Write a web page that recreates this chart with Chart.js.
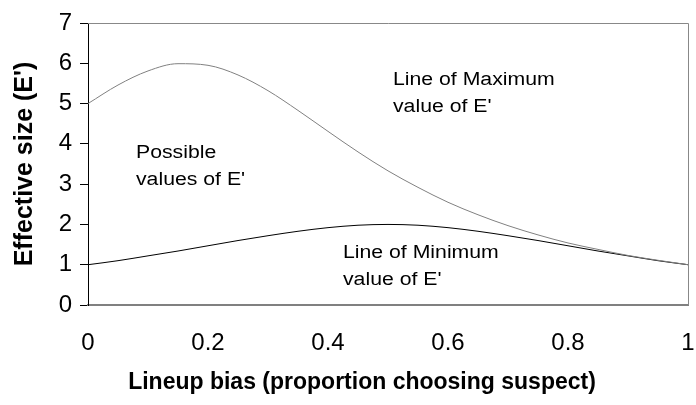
<!DOCTYPE html>
<html>
<head>
<meta charset="utf-8">
<script src="https://cdn.jsdelivr.net/npm/chart.js@4"></script>
<style>
  html, body { margin: 0; padding: 0; background: #fff; }
  #wrap { width: 696px; height: 405px; }
</style>
</head>
<body>
<div id="wrap"><canvas id="myChart" width="696" height="405"></canvas></div>
<script>
// lineup bias (x) and the two bounds of effective size E'
const bias = [0, 0.05, 0.1, 0.15, 0.2, 0.25, 0.3, 0.35, 0.4, 0.45, 0.5,
              0.55, 0.6, 0.65, 0.7, 0.75, 0.8, 0.85, 0.9, 0.95, 1];
const maxE = [5, 5.46, 5.81, 5.99, 5.95, 5.71, 5.32, 4.83, 4.31, 3.8, 3.33,
              2.92, 2.55, 2.24, 1.97, 1.74, 1.54, 1.38, 1.23, 1.11, 1];
const minE = [1, 1.1, 1.22, 1.34, 1.47, 1.6, 1.72, 1.83, 1.92, 1.98, 2,
              1.98, 1.92, 1.83, 1.72, 1.6, 1.47, 1.34, 1.22, 1.1, 1];
const xTicks = [0, 0.2, 0.4, 0.6, 0.8, 1];
const yTicks = [0, 1, 2, 3, 4, 5, 6, 7];

const FONT = "Arial, 'Liberation Sans', sans-serif";
const xTitle = "Lineup bias (proportion choosing suspect)";

// labels inside the plot: [text, x, baseline y]
const notes = [
    ["Possible", 136, 158],
    ["values of E'", 136, 185],
    ["Line of Maximum", 393, 85],
    ["value of E'", 393, 112],
    ["Line of Minimum", 343, 258],
    ["value of E'", 343, 285],
];

const frame = {
    id: "frame",
    beforeDatasetsDraw(chart) {
        const { ctx, chartArea: a } = chart;
        ctx.save();
        ctx.strokeStyle = "#888";
        ctx.lineWidth = 1;
        ctx.beginPath();
        ctx.moveTo(a.left, a.top + 0.5);
        ctx.lineTo(a.right + 0.5, a.top + 0.5);
        ctx.lineTo(a.right + 0.5, a.bottom);
        ctx.stroke();
        ctx.restore();
    },
    afterDraw(chart) {
        const ctx = chart.ctx;
        ctx.save();
        ctx.fillStyle = "#000";
        ctx.font = "18px " + FONT;
        ctx.textBaseline = "alphabetic";
        notes.forEach(([t, x, y]) => {
            ctx.save();
            ctx.translate(x, y);
            ctx.scale(1.18, 1);
            ctx.fillText(t, 0, 0);
            ctx.restore();
        });
        // x axis title, sits a bit left of the plot centre in the original
        ctx.font = "bold 23px " + FONT;
        ctx.textAlign = "center";
        ctx.textBaseline = "middle";
        ctx.fillText(xTitle, 362, 383);
        ctx.restore();
    },
};

const ctx = document.getElementById("myChart").getContext("2d");
const myChart = new Chart(ctx, {
    type: "scatter",
    plugins: [frame],
    data: {
        datasets: [
            {
                label: "Maximum",
                data: bias.map((x, i) => ({ x: x, y: maxE[i] })),
                showLine: true,
                borderColor: "#808080",
                borderWidth: 1,
                pointRadius: 0,
                cubicInterpolationMode: "monotone",
            },
            {
                label: "Minimum",
                data: bias.map((x, i) => ({ x: x, y: minE[i] })),
                showLine: true,
                borderColor: "#000",
                borderWidth: 1,
                pointRadius: 0,
                cubicInterpolationMode: "monotone",
            },
        ],
    },
    options: {
        responsive: false,
        animation: false,
        layout: { padding: { left: 0, right: 8, top: 23, bottom: 0 } },
        plugins: {
            legend: { display: false },
            tooltip: { enabled: false },
        },
        scales: {
            x: {
                type: "linear",
                min: 0,
                max: 1,
                afterBuildTicks: (s) => { s.ticks = xTicks.map((v) => ({ value: v })); },
                afterFit: (s) => { s.height = 100; s.paddingLeft = 0; s.paddingRight = 0; },
                grid: { display: false, drawTicks: false },
                border: { display: true, color: "#808080", width: 2 },
                ticks: {
                    color: "#000",
                    padding: 24,
                    maxRotation: 0,
                    font: { family: FONT, size: 24 },
                    callback: (v) => String(v),
                },
                title: { display: false },
            },
            y: {
                type: "linear",
                min: 0,
                max: 7,
                afterBuildTicks: (s) => { s.ticks = yTicks.map((v) => ({ value: v })); },
                afterFit: (s) => { s.width = 88; s.paddingTop = 0; s.paddingBottom = 0; },
                grid: {
                    drawOnChartArea: false,
                    drawTicks: true,
                    tickLength: 8,
                    color: "#000",
                },
                border: { display: true, color: "#000", width: 1 },
                ticks: {
                    color: "#000",
                    padding: 8,
                    font: { family: FONT, size: 24 },
                },
                title: {
                    display: true,
                    text: "Effective size (E')",
                    color: "#000",
                    font: { family: FONT, size: 25, weight: "bold" },
                    padding: { top: 10, bottom: 0 },
                },
            },
        },
    },
});
</script>
</body>
</html>
